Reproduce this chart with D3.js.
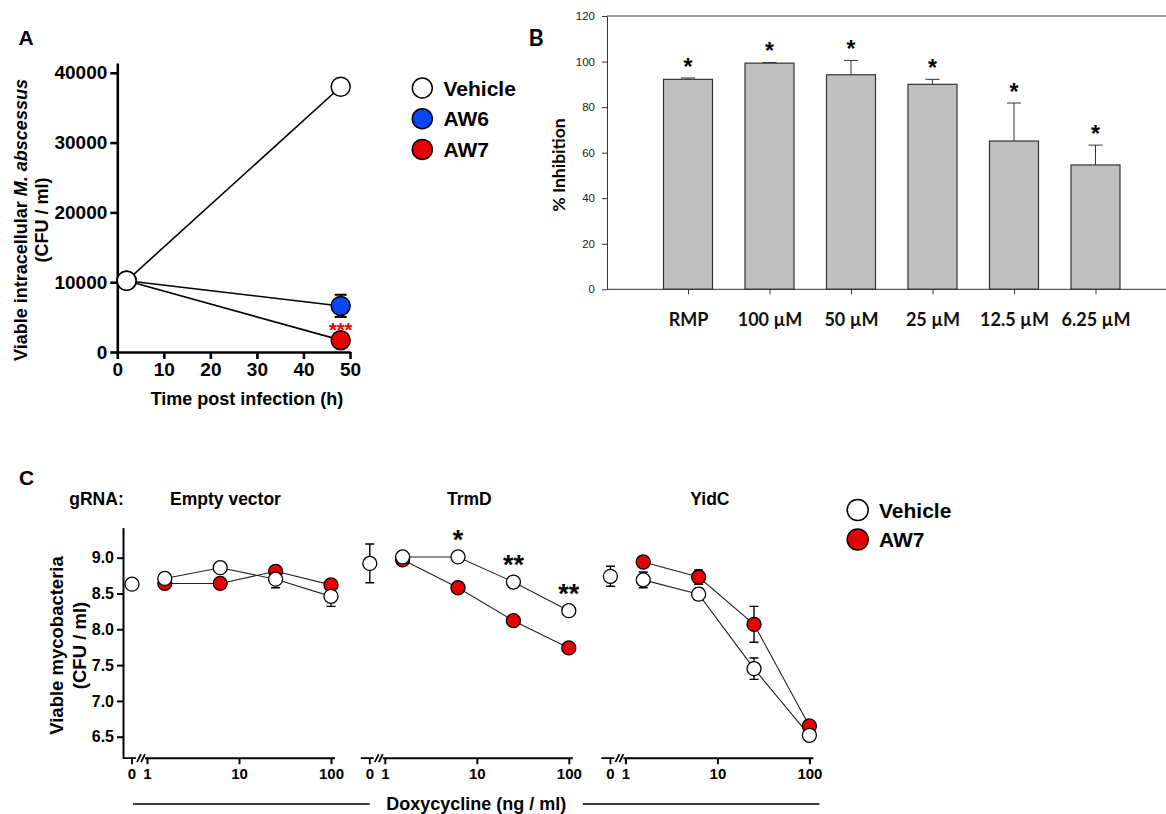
<!DOCTYPE html>
<html>
<head>
<meta charset="utf-8">
<script src="https://cdn.jsdelivr.net/npm/d3@7"></script>
<style>
  body { margin: 0; background: #fff; }
  svg { display: block; }
  .arial { font-family: "Liberation Sans", Arial, sans-serif; font-weight: bold; }
  .calib { font-family: "Liberation Sans Narrow", Lato, sans-serif; font-weight: bold; }
</style>
</head>
<body>
<div id="chart-area"></div>
<script>
// ---- panel A data
var timeA = [2, 48];
var vehicleA = [10200, 38000];
var aw6A = [10200, 6600];
var aw6ErrA = [0, 1600];
var aw7A = [10200, 1700];
var ticksAy = [0, 10000, 20000, 30000, 40000];
var ticksAx = [0, 10, 20, 30, 40, 50];

// ---- panel B data
var compounds = ["RMP", "100 µM", "50 µM", "25 µM", "12.5 µM", "6.25 µM"];
var inhibition = [92.2, 99.3, 94.2, 90.0, 65.1, 54.6];
var inhibitionErr = [0.6, 0.3, 6.3, 2.2, 16.7, 8.7];
var ticksBy = [0, 20, 40, 60, 80, 100, 120];

// ---- panel C data
var guides = ["Empty vector", "TrmD", "YidC"];
var doses = [1.5625, 6.25, 25, 100];
var vehicleZero = [8.63, 8.92, 8.74];
var vehicleZeroErr = [0, 0.27, 0.14];
var vehicleC = [[8.71, 8.86, 8.70, 8.46], [9.01, 9.01, 8.66, 8.26], [8.69, 8.49, 7.45, 6.52]];
var vehicleErrC = [[0.03, 0.03, 0.12, 0.14], [0.02, 0.02, 0.02, 0.02], [0.11, 0.08, 0.15, 0.03]];
var aw7C = [[8.64, 8.64, 8.81, 8.62], [8.97, 8.58, 8.12, 7.74], [8.94, 8.73, 8.07, 6.65]];
var aw7ErrC = [[0.02, 0.02, 0.07, 0.04], [0.02, 0.02, 0.02, 0.03], [0.03, 0.10, 0.25, 0.03]];
var starsTrmD = ["", "*", "**", "**"];
var ticksCy = [6.5, 7.0, 7.5, 8.0, 8.5, 9.0];
var ticksCx = [1, 10, 100];

var red = "#e60000", blue = "#0a46f5";

var svg = d3.select("#chart-area").append("svg")
    .attr("width", 1166)
    .attr("height", 814);

// ================= A =================
var gA = svg.append("g").attr("class", "arial");
var xA = d3.scaleLinear().domain([0, 50]).range([117.3, 350]);
var yA = d3.scaleLinear().domain([0, 41400]).range([352, 63]);

gA.append("text").attr("x", 26).attr("y", 45).attr("font-size", "21px")
    .attr("text-anchor", "middle").text("A");

var axA = gA.append("g").attr("transform", "translate(" + xA(0) + ",0)")
    .call(d3.axisLeft(yA).tickValues(ticksAy).tickFormat(d3.format("d"))
        .tickSize(7).tickPadding(3).tickSizeOuter(0));
var axAx = gA.append("g").attr("transform", "translate(0," + yA(0) + ")")
    .call(d3.axisBottom(xA).tickValues(ticksAx).tickSize(7).tickPadding(4).tickSizeOuter(0));
[axA, axAx].forEach(function(a) {
    a.selectAll("path, line").attr("stroke", "#000").attr("stroke-width", 2.6);
    a.selectAll("text").attr("font-size", "19px").attr("font-family", "Liberation Sans, Arial")
        .attr("font-weight", "bold").attr("fill", "#000");
});

var lineA = d3.line().x(function(d) { return xA(d[0]); }).y(function(d) { return yA(d[1]); });
[aw7A, aw6A, vehicleA].forEach(function(s) {
    gA.append("path").attr("d", lineA(d3.zip(timeA, s)))
        .attr("fill", "none").attr("stroke", "#000").attr("stroke-width", 1.6);
});
// AW6 error bar
gA.selectAll(".errA").data(d3.range(timeA.length).filter(function(i) { return aw6ErrA[i] > 0; }))
    .enter().append("path")
    .attr("d", function(i) {
        var x = xA(timeA[i]), t = yA(aw6A[i] + aw6ErrA[i]), b = yA(aw6A[i] - aw6ErrA[i]);
        return "M" + (x - 6) + "," + t + "H" + (x + 6) + "M" + x + "," + t + "V" + b + "M" + (x - 6) + "," + b + "H" + (x + 6);
    })
    .attr("stroke", "#000").attr("stroke-width", 2).attr("fill", "none");

[[aw7A, red], [aw6A, blue], [vehicleA, "#fff"]].forEach(function(s) {
    gA.selectAll(null).data(d3.zip(timeA, s[0])).enter().append("circle")
        .attr("cx", function(d) { return xA(d[0]); })
        .attr("cy", function(d) { return yA(d[1]); })
        .attr("r", 9.5).attr("fill", s[1]).attr("stroke", "#000").attr("stroke-width", 1.5);
});
gA.append("text").attr("x", xA(48)).attr("y", yA(aw7A[1]) - 3.5).attr("text-anchor", "middle")
    .attr("font-size", "20px").attr("fill", red).text("***");

gA.append("text").attr("transform", "translate(27,220) rotate(-90)")
    .attr("text-anchor", "middle").attr("font-size", "18px")
    .call(function(t) {
        t.append("tspan").text("Viable intracellular ");
        t.append("tspan").attr("font-style", "italic").text("M. abscessus");
    });
gA.append("text").attr("transform", "translate(48,220) rotate(-90)")
    .attr("text-anchor", "middle").attr("font-size", "18px").text("(CFU / ml)");
gA.append("text").attr("x", 247).attr("y", 404.5).attr("text-anchor", "middle")
    .attr("font-size", "18px").text("Time post infection (h)");

var legA = [["Vehicle", "#fff"], ["AW6", blue], ["AW7", red]];
legA.forEach(function(d, i) {
    var cy = 88 + i * 30.7;
    gA.append("circle").attr("cx", 422.3).attr("cy", cy).attr("r", 10)
        .attr("fill", d[1]).attr("stroke", "#000").attr("stroke-width", 1.5);
    gA.append("text").attr("x", 443.5).attr("y", cy + 7.5).attr("font-size", "21px").text(d[0]);
});

// ================= B =================
var gB = svg.append("g");
var xB = d3.scalePoint().domain(compounds).range([688, 1095.5]);
var yB = d3.scaleLinear().domain([0, 120]).range([289.3, 16]);
var barW = 49;

gB.append("text").attr("class", "calib").attr("x", 536).attr("y", 46).attr("text-anchor", "middle")
    .attr("font-size", "23px").text("B");

gB.append("line").attr("x1", 607).attr("x2", 1166).attr("y1", yB(120)).attr("y2", yB(120))
    .attr("stroke", "#333").attr("stroke-width", 1);

var axB = gB.append("g").attr("transform", "translate(607,0)")
    .call(d3.axisLeft(yB).tickValues(ticksBy).tickSize(5).tickPadding(7).tickSizeOuter(0));
axB.selectAll("path, line").attr("stroke", "#333");
axB.selectAll("text").attr("font-size", "11.5px").attr("fill", "#222")
    .attr("font-family", "Liberation Sans, Arial");

gB.selectAll(".errB").data(compounds).enter().append("path")
    .attr("d", function(d, i) {
        var x = xB(d), t = yB(inhibition[i] + inhibitionErr[i]);
        return "M" + x + "," + yB(inhibition[i]) + "V" + t + "M" + (x - 7) + "," + t + "H" + (x + 7);
    })
    .attr("stroke", "#333").attr("stroke-width", 1).attr("fill", "none");

gB.selectAll(".bar").data(compounds).enter().append("rect")
    .attr("x", function(d) { return xB(d) - barW / 2; })
    .attr("y", function(d, i) { return yB(inhibition[i]); })
    .attr("width", barW)
    .attr("height", function(d, i) { return yB(0) - yB(inhibition[i]); })
    .attr("fill", "#c0c0c0").attr("stroke", "#333").attr("stroke-width", 1.2);

var axBx = gB.append("g").attr("transform", "translate(0," + yB(0) + ")")
    .call(d3.axisBottom(xB).tickSize(5).tickPadding(19).tickSizeOuter(0));
axBx.select("path").attr("d", "M607,0H1166");
axBx.selectAll("path, line").attr("stroke", "#333");
axBx.selectAll("text").attr("class", "calib").attr("font-size", "18px").attr("fill", "#111");

gB.selectAll(".starB").data(compounds).enter().append("text")
    .attr("class", "arial")
    .attr("x", function(d) { return xB(d); })
    .attr("y", function(d, i) { return yB(inhibition[i] + inhibitionErr[i]) - 3; })
    .attr("text-anchor", "middle").attr("font-size", "23px").text("*");

gB.append("text").attr("class", "calib").attr("transform", "translate(565,165) rotate(-90)")
    .attr("text-anchor", "middle").attr("font-size", "17.5px").text("% Inhibition");

// ================= C =================
var gC = svg.append("g").attr("class", "arial");
var yC = d3.scaleLinear().domain([6.2, 9.42]).range([758.2, 527.6]);
var panelOff = [0, 237.8, 478.4];

gC.append("text").attr("x", 26.7).attr("y", 485).attr("text-anchor", "middle")
    .attr("font-size", "21px").text("C");
gC.append("text").attr("x", 96.5).attr("y", 505).attr("text-anchor", "middle")
    .attr("font-size", "17.5px").text("gRNA:");

var axCy = gC.append("g").attr("transform", "translate(123,0)")
    .call(d3.axisLeft(yC).tickValues(ticksCy).tickFormat(d3.format(".1f")).tickSize(6).tickPadding(3).tickSizeOuter(0));
axCy.selectAll("path, line").attr("stroke", "#000").attr("stroke-width", 2);
axCy.selectAll("text").attr("font-size", "16px").attr("font-family", "Liberation Sans, Arial")
    .attr("font-weight", "bold").attr("fill", "#000");

gC.append("text").attr("transform", "translate(63,645.5) rotate(-90)")
    .attr("text-anchor", "middle").attr("font-size", "18.5px").text("Viable mycobacteria");
gC.append("text").attr("transform", "translate(85.5,645.5) rotate(-90)")
    .attr("text-anchor", "middle").attr("font-size", "18.5px").text("(CFU / ml)");

var xCs = [];
guides.forEach(function(name, p) {
    var x = d3.scaleLog().domain([1, 100]).range([147 + panelOff[p], 331 + panelOff[p]]);
    xCs.push(x);
    var x0 = x(1) - 15;
    var g = gC.append("g");
    var yb = yC(6.2);

    g.append("text").attr("x", (x0 + x(100)) / 2 + (p === 0 ? -6 : 0)).attr("y", 505)
        .attr("text-anchor", "middle").attr("font-size", "17.5px").text(name);

    // bottom axis with break
    var ax = g.append("g").attr("transform", "translate(0," + yb + ")")
        .call(d3.axisBottom(x).tickValues(ticksCx).tickFormat(d3.format("d")).tickSize(6).tickPadding(4).tickSizeOuter(0));
    ax.select("path").attr("d", "M" + (x(1) - 2) + ",0H" + (x(100) + 4));
    ax.selectAll("path, line").attr("stroke", "#000").attr("stroke-width", 2);
    ax.selectAll("text").attr("font-size", "15px").attr("font-family", "Liberation Sans, Arial")
        .attr("font-weight", "bold").attr("fill", "#000");
    var segStart = p === 0 ? 123 : x0 - 9;
    g.append("path")
        .attr("d", "M" + segStart + "," + yb + "H" + (x0 + 4) + "M" + x0 + "," + yb + "V" + (yb + 6) +
            "M" + (x0 + 5) + "," + (yb + 4) + "L" + (x0 + 9) + "," + (yb - 4) +
            "M" + (x0 + 9) + "," + (yb + 4) + "L" + (x0 + 13) + "," + (yb - 4))
        .attr("stroke", "#000").attr("stroke-width", 1.8).attr("fill", "none");
    g.append("text").attr("x", x0).attr("y", yb + 10).attr("dy", "0.71em").attr("text-anchor", "middle")
        .attr("font-size", "15px").text("0");

    var line = d3.line().x(function(d) { return x(d[0]); }).y(function(d) { return yC(d[1]); });
    [vehicleC[p], aw7C[p]].forEach(function(s) {
        g.append("path").attr("d", line(d3.zip(doses, s)))
            .attr("fill", "none").attr("stroke", "#222").attr("stroke-width", 1.1);
    });

    var errs = [];
    doses.forEach(function(dz, i) {
        errs.push([x(dz), aw7C[p][i], aw7ErrC[p][i]]);
        errs.push([x(dz), vehicleC[p][i], vehicleErrC[p][i]]);
    });
    errs.push([x0, vehicleZero[p], vehicleZeroErr[p]]);
    g.selectAll(".err").data(errs.filter(function(e) { return e[2] > 0.05; })).enter().append("path")
        .attr("d", function(e) {
            var t = yC(e[1] + e[2]), b = yC(e[1] - e[2]);
            return "M" + (e[0] - 4.5) + "," + t + "H" + (e[0] + 4.5) + "M" + e[0] + "," + t + "V" + b +
                "M" + (e[0] - 4.5) + "," + b + "H" + (e[0] + 4.5);
        })
        .attr("stroke", "#000").attr("stroke-width", 1.4).attr("fill", "none");

    g.selectAll(".aw7").data(d3.zip(doses, aw7C[p])).enter().append("circle")
        .attr("cx", function(d) { return x(d[0]); }).attr("cy", function(d) { return yC(d[1]); })
        .attr("r", 7).attr("fill", red).attr("stroke", "#000").attr("stroke-width", 1.3);
    g.selectAll(".veh").data(d3.zip(doses, vehicleC[p])).enter().append("circle")
        .attr("cx", function(d) { return x(d[0]); }).attr("cy", function(d) { return yC(d[1]); })
        .attr("r", 7).attr("fill", "#fff").attr("stroke", "#000").attr("stroke-width", 1.3);
    g.append("circle").attr("cx", x0).attr("cy", yC(vehicleZero[p]))
        .attr("r", 7).attr("fill", "#fff").attr("stroke", "#000").attr("stroke-width", 1.3);

    if (name === "TrmD") {
        g.selectAll(".star").data(d3.zip(doses, vehicleC[p], starsTrmD)).enter().append("text")
            .attr("x", function(d) { return x(d[0]); })
            .attr("y", function(d) { return yC(d[1]) - 8; })
            .attr("text-anchor", "middle").attr("font-size", "27px").text(function(d) { return d[2]; });
    }
});

// shared x title with rules
var lineY = 804;
var leftEnd = xCs[1](1) - 15, rightStart = xCs[1](100) + 14;
gC.append("path").attr("d", "M" + (xCs[0](1) - 14) + "," + lineY + "H" + leftEnd +
        "M" + rightStart + "," + lineY + "H" + (xCs[2](100) + 10))
    .attr("stroke", "#000").attr("stroke-width", 1.6);
gC.append("text").attr("x", (leftEnd + rightStart) / 2).attr("y", 809.5).attr("text-anchor", "middle")
    .attr("font-size", "18px").text("Doxycycline (ng / ml)");

var legC = [["Vehicle", "#fff"], ["AW7", red]];
legC.forEach(function(d, i) {
    var cy = 510 + i * 29.5;
    gC.append("circle").attr("cx", 857.7).attr("cy", cy).attr("r", 10.5)
        .attr("fill", d[1]).attr("stroke", "#000").attr("stroke-width", 1.5);
    gC.append("text").attr("x", 879).attr("y", cy + 7.5).attr("font-size", "21px").text(d[0]);
});
</script>
</body>
</html>
